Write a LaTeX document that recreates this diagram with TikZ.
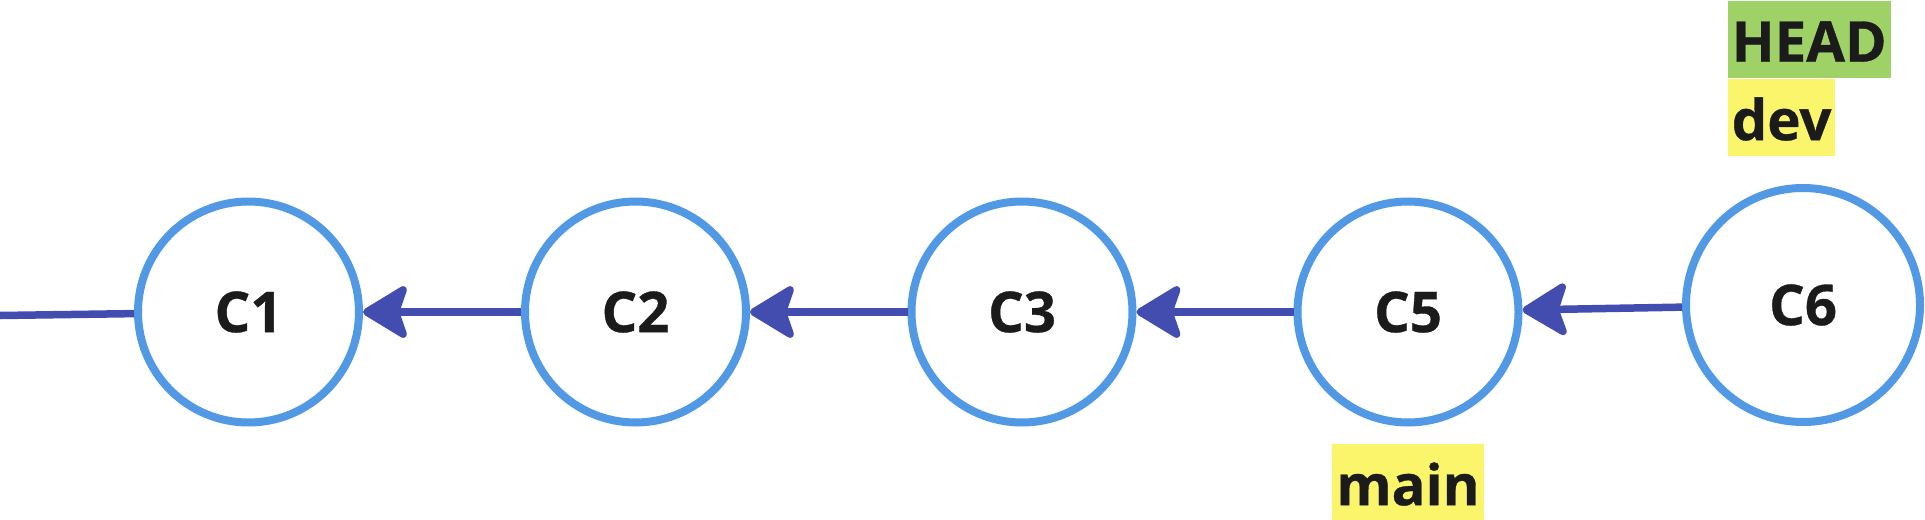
\documentclass[tikz,border=0pt]{standalone}
\usepackage{fontspec}
\setmainfont{Open Sans}[BoldFeatures={FakeBold=0.6}]
\usetikzlibrary{positioning,arrows.meta}
\definecolor{ringblue}{HTML}{5199E4}
\definecolor{linkblue}{HTML}{434CAF}
\definecolor{headgreen}{HTML}{9FD266}
\definecolor{refyellow}{HTML}{FBF56B}
\definecolor{inkblack}{HTML}{1B1B1B}
\begin{document}
\begin{tikzpicture}[
    font=\fontsize{16}{16}\selectfont\bfseries,
    commit/.style={circle,draw=ringblue,line width=0.08cm,minimum size=2.21cm,inner sep=0pt,text=inkblack},
    link/.style={draw=linkblue,line width=0.075cm,-{Stealth[length=0.5cm,width=0.6cm,inset=0.1cm,round]}},
    ref/.style={inner xsep=0.04cm,inner ysep=0pt,text height=0.61cm,text depth=0.16cm,text=inkblack,anchor=north west}]
    \useasboundingbox (0,0) rectangle (19.25,5.19);
    \node[commit] (c1) at (2.485,2.07) {C1};
    \node[commit] (c2) at (6.355,2.07) {C2};
    \node[commit] (c3) at (10.22,2.07) {C3};
    \node[commit] (c5) at (14.08,2.07) {C5};
    \node[commit,minimum size=2.34cm] (c6) at (18.03,2.14) {C6};
    \coordinate (start) at (0,2.035);
    \draw[linkblue,line width=0.075cm] (start) -- (c1);
    \draw[link] (c2) -- (c1);
    \draw[link] (c3) -- (c2);
    \draw[link] (c5) -- (c3);
    \draw[link] (c6) -- (c5);
    \node[ref,fill=headgreen] (head) at (17.27,5.19) {HEAD};
    \node[ref,fill=refyellow] (dev) at (head.south west) {dev};
    \node[ref,fill=refyellow,below=0.17cm of c5] (main) {main};
\end{tikzpicture}
\end{document}
